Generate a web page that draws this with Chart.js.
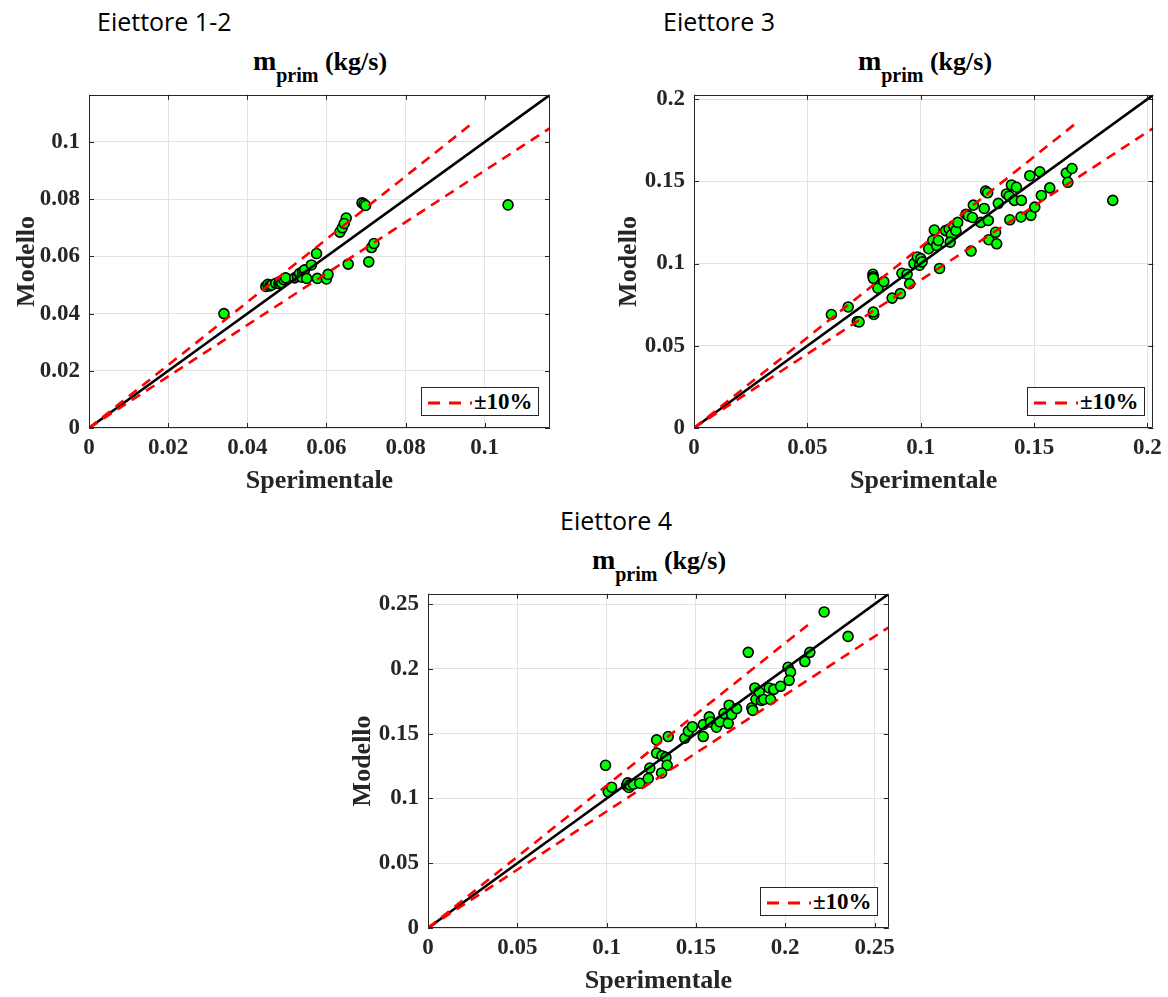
<!DOCTYPE html>
<html><head><meta charset="utf-8">
<script src="https://cdn.jsdelivr.net/npm/chart.js@4.4.1/dist/chart.umd.min.js"></script>
<style>
body{margin:0;background:#fff;width:1168px;height:997px;position:relative;overflow:hidden;}
canvas{position:absolute;}
.lbl{position:absolute;font-family:"Open Sans";font-size:25px;line-height:25px;color:#000;white-space:nowrap;}
.ttl{position:absolute;font-family:"Liberation Serif";font-weight:bold;font-size:26px;line-height:26px;color:#000;white-space:nowrap;transform:translateX(-50%);}
.ttl .m{font-size:28px;}
.ttl .s{font-size:20px;position:relative;top:12px;}
.leg{position:absolute;background:#fff;border:1px solid #262626;box-sizing:border-box;width:118px;height:29px;}
.leg svg{position:absolute;left:4px;top:13px;}
.leg span{position:absolute;left:52px;top:2px;font-family:"Liberation Serif";font-weight:bold;font-size:23px;line-height:23px;color:#000;}
</style></head>
<body>
<div class="lbl" style="left:97px;top:9px;">Eiettore 1-2</div>
<div class="lbl" style="left:663px;top:9px;">Eiettore 3</div>
<div class="lbl" style="left:560px;top:508px;">Eiettore 4</div>

<div class="ttl" style="left:320px;top:48px;"><span class="m">m</span><span class="s">prim</span> (kg/s)</div>
<div class="ttl" style="left:925px;top:48px;"><span class="m">m</span><span class="s">prim</span> (kg/s)</div>
<div class="ttl" style="left:659px;top:547px;"><span class="m">m</span><span class="s">prim</span> (kg/s)</div>

<script>
// ===== Eiettore 1-2 =====
const E12_sper = [0.0341,0.0447,0.0452,0.0457,0.0462,0.0472,0.0480,0.0482,0.0487,0.0492,0.0497,0.0520,0.0527,0.0532,0.0540,0.0545,0.0538,0.0550,0.0562,0.0575,0.0577,0.0600,0.0604,0.0634,0.0640,0.0650,0.0645,0.0655,0.0690,0.0695,0.0699,0.0707,0.0714,0.0720,0.1059];
const E12_mod  = [0.0400,0.0495,0.0502,0.0497,0.0500,0.0506,0.0505,0.0512,0.0508,0.0519,0.0525,0.0525,0.0530,0.0540,0.0547,0.0553,0.0527,0.0523,0.0570,0.0610,0.0523,0.0521,0.0537,0.0685,0.0700,0.0734,0.0715,0.0573,0.0787,0.0783,0.0778,0.0581,0.0631,0.0645,0.0780];
const E12_ticks = [0,0.02,0.04,0.06,0.08,0.1];
const E12_lim = 0.1165, E12_upEnd = 0.097;

// ===== Eiettore 3 =====
const E3_sper = [0.0606,0.0680,0.0720,0.0728,0.0789,0.0790,0.0791,0.0793,0.0791,0.0811,0.0837,0.0874,0.0910,0.0917,0.0940,0.0951,0.0970,0.0985,0.0995,0.1000,0.1006,0.1035,0.1053,0.1060,0.1070,0.1078,0.1083,0.1110,0.1125,0.1135,0.1130,0.1145,0.1155,0.1163,0.1200,0.1210,0.1228,0.1232,0.1222,0.1265,0.1280,0.1298,0.1286,0.1295,0.1300,0.1330,0.1335,0.1342,0.1378,0.1390,0.1400,0.1413,0.1422,0.1444,0.1393,0.1442,0.1486,0.1503,0.1532,0.1569,0.1481,0.1525,0.1642,0.1649,0.1667,0.1847];
const E3_mod  = [0.0690,0.0736,0.0648,0.0645,0.0935,0.0920,0.0910,0.0690,0.0705,0.0850,0.0890,0.0790,0.0817,0.0941,0.0935,0.0877,0.1000,0.1040,0.0990,0.1030,0.1010,0.1090,0.1140,0.1204,0.1110,0.1140,0.0970,0.1200,0.1210,0.1175,0.1130,0.1230,0.1200,0.1250,0.1300,0.1290,0.1280,0.1355,0.1076,0.1250,0.1335,0.1262,0.1440,0.1430,0.1145,0.1190,0.1120,0.1366,0.1423,0.1410,0.1478,0.1384,0.1464,0.1384,0.1266,0.1283,0.1293,0.1343,0.1414,0.1460,0.1534,0.1558,0.1550,0.1494,0.1578,0.1384];
const E3_ticks = [0,0.05,0.1,0.15,0.2];
const E3_lim = 0.2026, E3_upEnd = 0.170;

// ===== Eiettore 4 =====
const E4_sper = [0.0994,0.1009,0.1028,0.1112,0.1118,0.1125,0.1130,0.1150,0.1186,0.1233,0.1242,0.1280,0.1280,0.1310,0.1332,0.1339,0.1308,0.1345,0.1438,0.1458,0.1480,0.1541,0.1541,0.1575,0.1582,0.1615,0.1634,0.1657,0.1686,0.1681,0.1700,0.1728,0.1793,0.1813,0.1818,0.1830,0.1836,0.1854,0.1867,0.1880,0.1918,0.1910,0.1936,0.1974,0.2016,0.2030,0.2022,0.2110,0.2138,0.2218,0.2352];
const E4_mod  = [0.1256,0.1051,0.1087,0.1100,0.1120,0.1085,0.1105,0.1110,0.1118,0.1154,0.1235,0.1452,0.1350,0.1330,0.1317,0.1256,0.1197,0.1478,0.1465,0.1520,0.1554,0.1478,0.1570,0.1630,0.1590,0.1550,0.1592,0.1656,0.1720,0.1580,0.1648,0.1694,0.2128,0.1700,0.1680,0.1853,0.1766,0.1822,0.1757,0.1764,0.1764,0.1853,0.1842,0.1866,0.2013,0.1975,0.1912,0.2057,0.2128,0.2440,0.2251];
const E4_ticks = [0,0.05,0.1,0.15,0.2,0.25];
const E4_lim = 0.258, E4_upEnd = 0.213;

const SERIF = '"Liberation Serif", "Times New Roman", serif';
const fmt = v => String(+(+v).toFixed(4));

const boxPlugin = {
  id:'matlabBox',
  afterDraw(chart){
    const {ctx, chartArea:a, scales:{x, y}} = chart;
    ctx.save();
    ctx.strokeStyle = '#262626';
    ctx.lineWidth = 1;
    ctx.beginPath();
    ctx.rect(Math.round(a.left)+0.5, Math.round(a.top)+0.5, Math.round(a.right-a.left)-1, Math.round(a.bottom-a.top)-1);
    ctx.stroke();
    ctx.beginPath();
    x.ticks.forEach(t => {
      const p = Math.round(x.getPixelForValue(t.value))+0.5;
      ctx.moveTo(p, a.bottom); ctx.lineTo(p, a.bottom-5);
      ctx.moveTo(p, a.top); ctx.lineTo(p, a.top+5);
    });
    y.ticks.forEach(t => {
      const p = Math.round(y.getPixelForValue(t.value))+0.5;
      ctx.moveTo(a.left, p); ctx.lineTo(a.left+5, p);
      ctx.moveTo(a.right, p); ctx.lineTo(a.right-5, p);
    });
    ctx.stroke();
    ctx.restore();
  }
};

function build(cfg){
  const YW = 89, XH = 75, PT = 20, PR = 12;
  const W = (cfg.R - cfg.L) + YW + PR;
  const H = (cfg.B - cfg.T) + PT + XH;
  const cv = document.createElement('canvas');
  cv.width = W; cv.height = H;
  cv.style.left = (cfg.L - YW) + 'px'; cv.style.top = (cfg.T - PT) + 'px';
  cv.style.width = W + 'px'; cv.style.height = H + 'px';
  document.body.appendChild(cv);
  const pts = cfg.xs.map((v,i) => ({x:v, y:cfg.ys[i]}));
  const tickFont = {family:SERIF, size:23, weight:'bold'};
  const titleFont = {family:SERIF, size:26, weight:'bold'};
  const mkTicks = arr => (s => { s.ticks = arr.map(v => ({value:v})); });
  new Chart(cv, {
    type:'scatter',
    data:{datasets:[
      {label:'dati', data:pts, backgroundColor:'#00ff00', borderColor:'#000', borderWidth:1.6, pointRadius:5, order:4},
      {label:'1:1', type:'line', data:[{x:0,y:0},{x:cfg.lim,y:cfg.lim}], borderColor:'#000', borderWidth:2.6, pointRadius:0, fill:false, order:3},
      {label:'+10%', type:'line', data:[{x:0,y:0},{x:cfg.up,y:cfg.up*1.1}], borderColor:'#ff0000', borderDash:[10,7], borderWidth:2.6, pointRadius:0, fill:false, order:2},
      {label:'-10%', type:'line', data:[{x:0,y:0},{x:cfg.lim,y:cfg.lim*0.9}], borderColor:'#ff0000', borderDash:[10,7], borderWidth:2.6, pointRadius:0, fill:false, order:1}
    ]},
    options:{
      responsive:false, animation:false, devicePixelRatio:1,
      layout:{padding:{top:PT, right:PR, left:0, bottom:0}},
      plugins:{legend:{display:false}, tooltip:{enabled:false}},
      scales:{
        x:{type:'linear', min:0, max:cfg.lim,
           afterFit: s => { s.height = XH; },
           afterBuildTicks: mkTicks(cfg.ticks),
           grid:{color:'#e2e2e2', lineWidth:1, drawTicks:false},
           border:{display:false},
           ticks:{font:tickFont, color:'#262626', padding:6, maxRotation:0, autoSkip:false, callback:fmt},
           title:{display:true, text:'Sperimentale', font:titleFont, color:'#262626', padding:{top:0, bottom:6}}},
        y:{type:'linear', min:0, max:cfg.lim,
           afterFit: s => { s.width = YW; },
           afterBuildTicks: mkTicks(cfg.ticks),
           grid:{color:'#e2e2e2', lineWidth:1, drawTicks:false},
           border:{display:false},
           ticks:{font:tickFont, color:'#262626', padding:9, autoSkip:false, callback:fmt},
           title:{display:true, text:'Modello', font:titleFont, color:'#262626', padding:{top:cfg.ytp, bottom:0}}}
      }
    },
    plugins:[boxPlugin]
  });
  // legend
  const lg = document.createElement('div');
  lg.className = 'leg';
  lg.style.left = (cfg.R - 11 - 118) + 'px';
  lg.style.top = (cfg.B - 12 - 29) + 'px';
  lg.innerHTML = '<svg width="46" height="4"><line x1="2" y1="2" x2="46" y2="2" stroke="#ff0000" stroke-width="3" stroke-dasharray="12 9"/></svg><span>\u00B110%</span>';
  document.body.appendChild(lg);
}

build({L:89,  T:92,  R:550,  B:428, xs:E12_sper, ys:E12_mod, ticks:E12_ticks, lim:E12_lim, up:E12_upEnd, ytp:12});
build({L:694, T:92,  R:1156, B:428, xs:E3_sper,  ys:E3_mod,  ticks:E3_ticks,  lim:E3_lim,  up:E3_upEnd,  ytp:9});
build({L:428, T:591, R:889,  B:928, xs:E4_sper,  ys:E4_mod,  ticks:E4_ticks,  lim:E4_lim,  up:E4_upEnd,  ytp:9});
</script>
</body></html>
